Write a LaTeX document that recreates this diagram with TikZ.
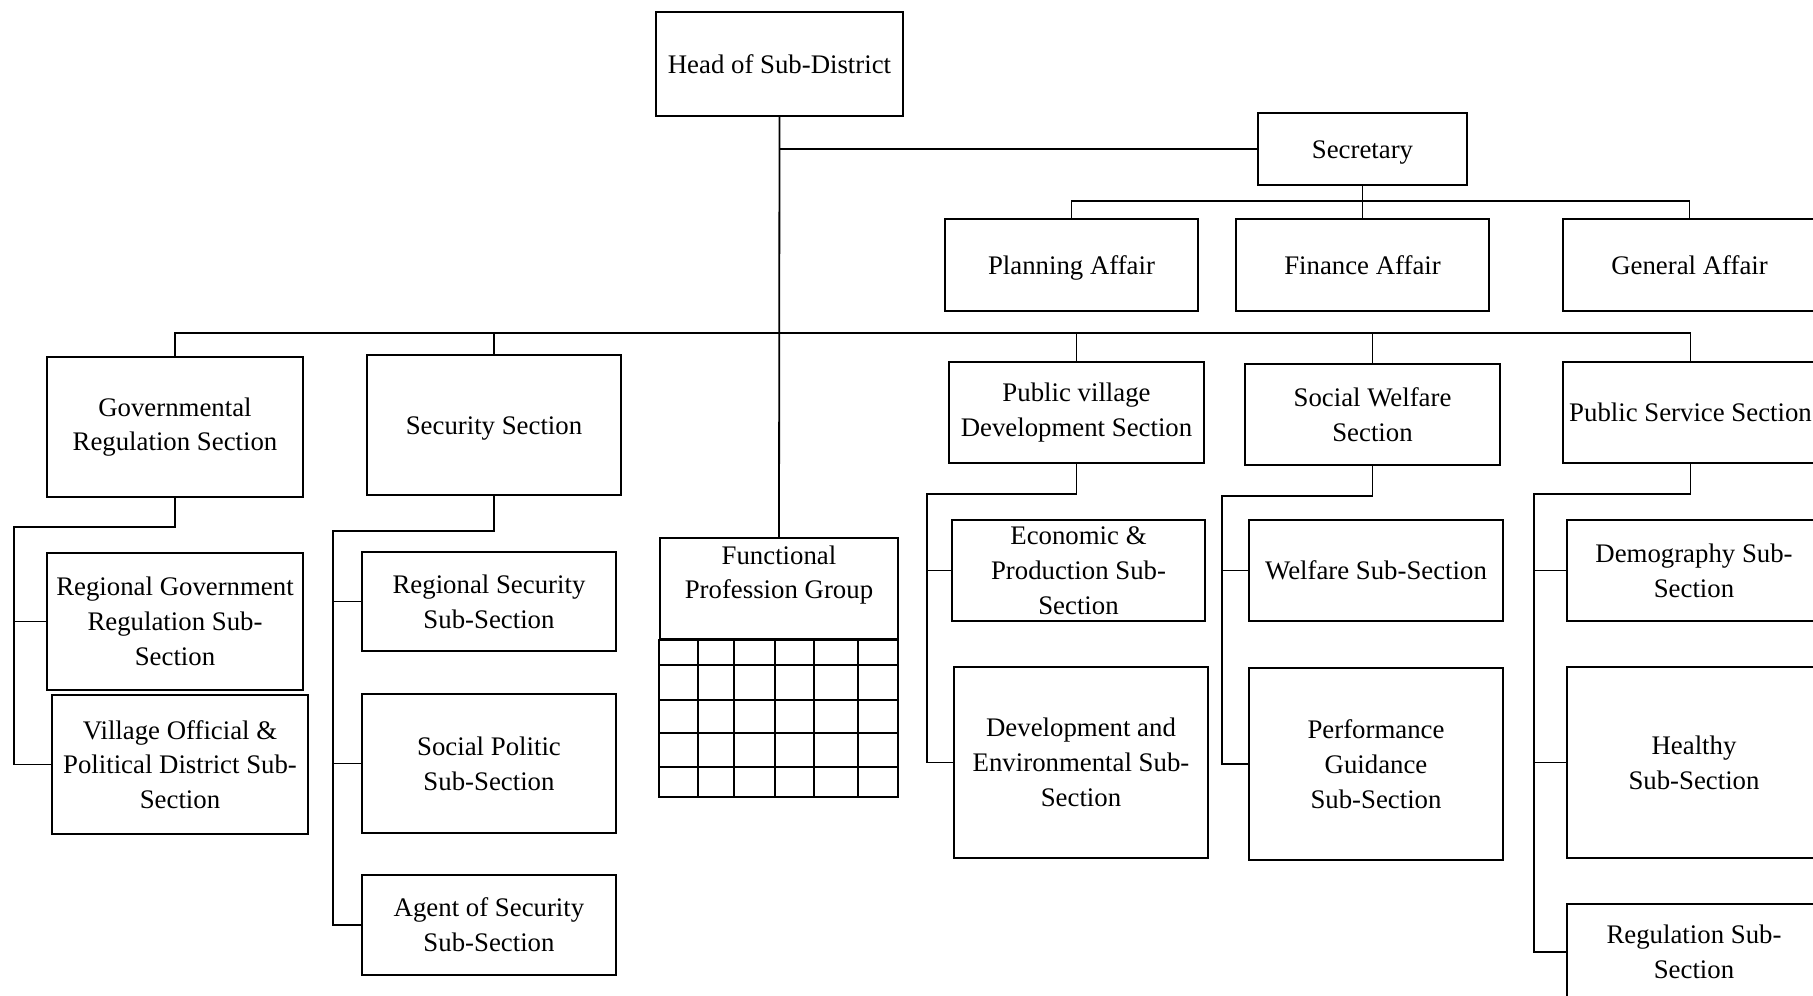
\documentclass[tikz,border=0pt]{standalone}
\usepackage{fontspec}
\setmainfont{Liberation Serif}

\tikzset{
  unit/.style={draw, rectangle, align=center, inner sep=1pt,
    font=\fontsize{13.4}{17.4}\selectfont},
  oneline/.style={unit,
    execute at begin node={\rule{0pt}{12.1pt}},
    execute at end node={\rule[-2.9pt]{0pt}{2.9pt}}},
}

\begin{document}
\begin{tikzpicture}[x=0.5pt,y=-0.5pt,line width=0.9pt]
          \useasboundingbox (0,0) rectangle (1813,995);

          % top level
          \node[oneline, minimum width=123.5pt, minimum height=52pt] (head) at (779.5,64) {Head of Sub-District};
          \node[oneline, minimum width=104.5pt, minimum height=36pt] (secr) at (1362.5,149) {Secretary};

          \node[oneline, minimum width=126.5pt, minimum height=46pt] (plan) at (1071.5,265) {Planning Affair};
          \node[oneline, minimum width=126.5pt, minimum height=46pt] (fin) at (1362.5,265) {Finance Affair};
          \node[oneline, minimum width=126.5pt, minimum height=46pt] (gen) at (1689.5,265) {General Affair};

          % sections
          \node[unit, minimum width=128pt, minimum height=70pt] (gov) at (175,427) {Governmental\\Regulation Section};
          \node[oneline, minimum width=127pt, minimum height=70pt] (sec) at (494,425) {Security Section};
          \node[unit, minimum width=127.5pt, minimum height=50.5pt] (pvd) at (1076.5,412.5) {Public village\\Development Section};
          \node[unit, minimum width=127.5pt, minimum height=50.5pt] (swf) at (1372.5,414.5) {Social Welfare\\Section};
          \node[oneline, minimum width=127.5pt, minimum height=50.5pt] (pss) at (1690.5,412.5) {Public Service Section};

          % functional group
          \node[unit, minimum width=119pt, minimum height=50.5pt, anchor=north] (fpg) at (779,537) {};
          \node[font=\fontsize{13.4}{17.4}\selectfont, align=center] (fpgtext) at (779,575) {Functional\\Profession Group};
          \coordinate (gridbr) at (898,797);
          \draw (fpg.south west) rectangle (gridbr);
          \foreach \y in {665,700,733,767}
            \draw (660,\y) -- (898,\y);
          \foreach \x in {698,734,775,814,858}
            \draw (\x,638) -- (\x,797);

          % sub-sections
          \node[unit, minimum width=128pt, minimum height=68.5pt] (rgr) at (175,621.5) {Regional Government\\Regulation Sub-\\Section};
          \node[unit, minimum width=128pt, minimum height=69.5pt] (vop) at (180,764.5) {Village Official \&\\Political District Sub-\\Section};

          \node[unit, minimum width=127pt, minimum height=49.5pt] (rss) at (489,601.5) {Regional Security\\Sub-Section};
          \node[unit, minimum width=127pt, minimum height=69.5pt] (spo) at (489,763.5) {Social Politic\\Sub-Section};
          \node[unit, minimum width=127pt, minimum height=50pt] (aos) at (489,925) {Agent of Security\\Sub-Section};

          \node[unit, minimum width=126.5pt, minimum height=50.5pt] (eps) at (1078.5,570.5) {Economic \&\\Production Sub-\\Section};
          \node[unit, minimum width=127pt, minimum height=95.5pt] (des) at (1081,762.5) {Development and\\Environmental Sub-\\Section};

          \node[oneline, minimum width=127pt, minimum height=50.5pt] (wss) at (1376,570.5) {Welfare Sub-Section};
          \node[unit, minimum width=127pt, minimum height=96pt] (pgs) at (1376,764) {Performance\\Guidance\\Sub-Section};

          \node[unit, minimum width=127pt, minimum height=50.5pt] (dms) at (1694,570.5) {Demography Sub-\\Section};
          \node[unit, minimum width=127pt, minimum height=95.5pt] (hss) at (1694,762.5) {Healthy\\Sub-Section};
          \node[unit, minimum width=127pt, minimum height=48pt] (rgs) at (1694,952) {Regulation Sub-\\Section};

          % head links
          \coordinate (sbus) at (1362.5,201);
          \coordinate (mbus) at (779.5,333);
          \draw (head.south) -- (fpg.north);
          \draw (secr.west) -- (secr.west -| head.south);
          \draw (secr.south) -- (fin.north);
          \draw (plan.north) |- (sbus) -| (gen.north);

          \draw (gov.north) |- (mbus) -| (pss.north);
          \foreach \n in {sec,pvd,swf}
            \draw (\n.north) -- (\n.north |- mbus);

          % spines
          \coordinate (govsp) at (14,527);
          \coordinate (secsp) at (333,531);
          \coordinate (pvdsp) at (927,494);
          \coordinate (swfsp) at (1222,496);
          \coordinate (psssp) at (1534,494);

          \draw (gov.south) |- (govsp) |- (vop.west);
          \draw (govsp |- rgr.west) -- (rgr.west);

          \draw (sec.south) |- (secsp) |- (aos.west);
          \draw (secsp |- rss.west) -- (rss.west);
          \draw (secsp |- spo.west) -- (spo.west);

          \draw (pvd.south) |- (pvdsp) |- (des.west);
          \draw (pvdsp |- eps.west) -- (eps.west);

          \draw (swf.south) |- (swfsp) |- (pgs.west);
          \draw (swfsp |- wss.west) -- (wss.west);

          \draw (pss.south) |- (psssp) |- (rgs.west);
          \draw (psssp |- dms.west) -- (dms.west);
          \draw (psssp |- hss.west) -- (hss.west);

          \end{tikzpicture}
\end{document}
